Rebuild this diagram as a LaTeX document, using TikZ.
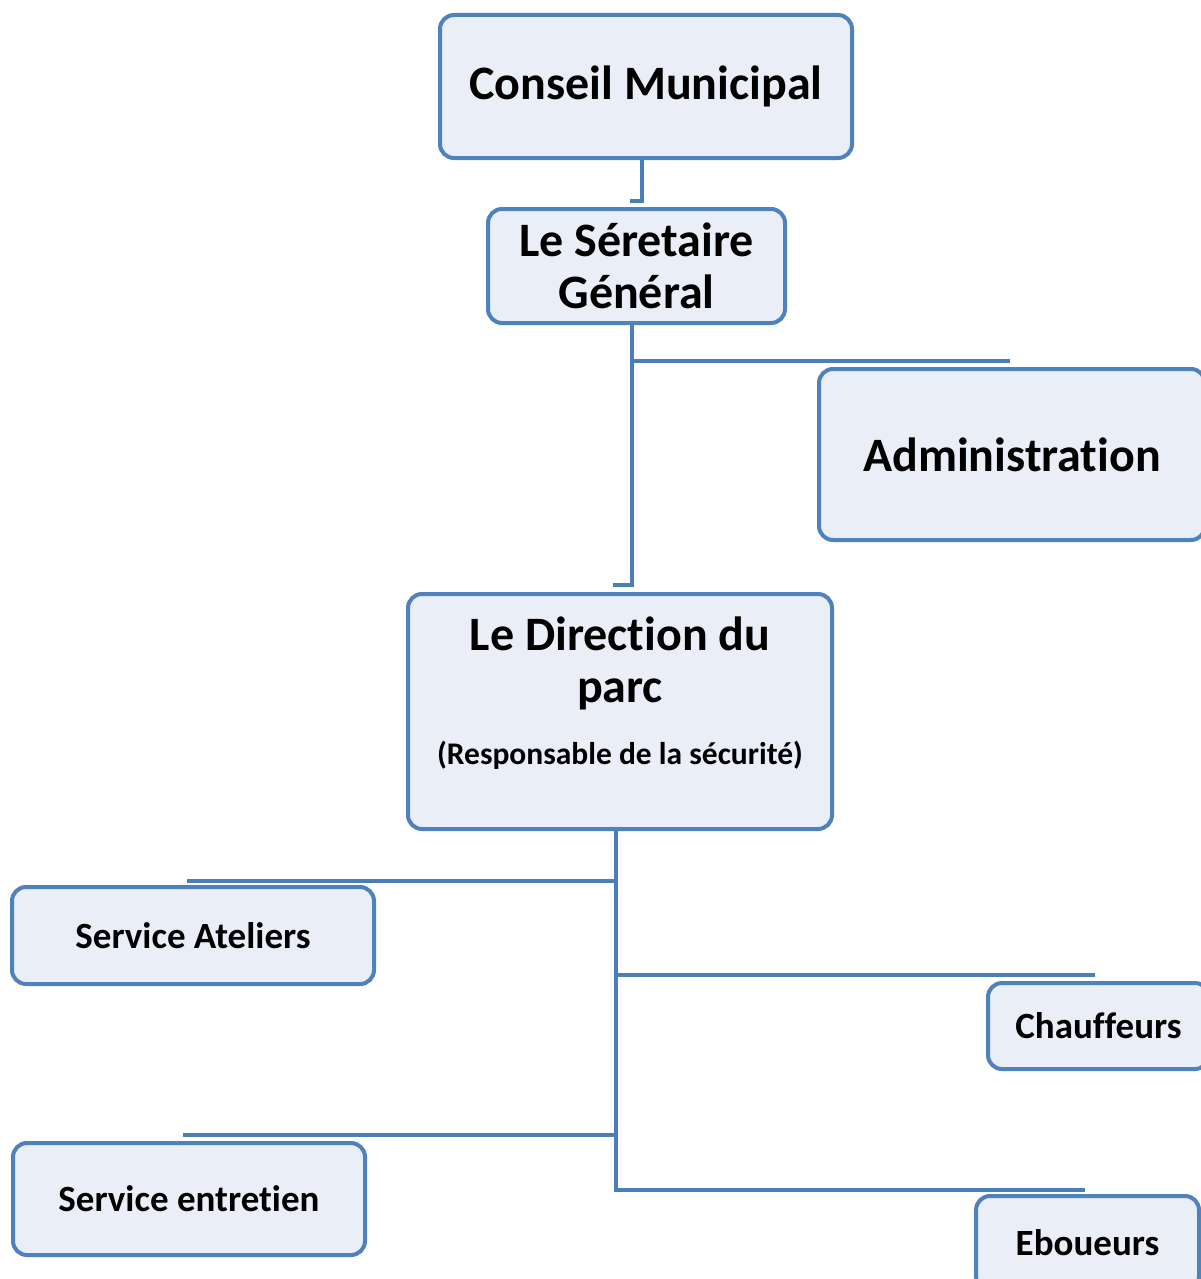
\documentclass[tikz,border=0pt]{standalone}
\usepackage{fontspec}
\setmainfont[Ligatures=NoCommon]{Carlito}
\definecolor{boxline}{RGB}{79,129,189}
\definecolor{conline}{RGB}{74,126,187}
\definecolor{boxfill}{RGB}{234,239,247}
\tikzset{
  orgbox/.style={draw=boxline, line width=4pt, fill=boxfill, rounded corners=14pt, align=center, font=\bfseries, inner sep=0pt},
  big/.style={font=\bfseries\fontsize{48}{52}\selectfont},
  mid/.style={font=\bfseries\fontsize{37}{44}\selectfont},
  conn/.style={draw=conline, line width=4pt}
}
\begin{document}
\begin{tikzpicture}[x=1pt,y=-1pt]
\useasboundingbox (0,0) rectangle (1201,1279);
\clip (0,0) rectangle (1201,1279);
% boxes
\node[orgbox, big, minimum width=412pt, minimum height=143pt] (conseil) at (646,86.5) {Conseil Municipal};
\node[orgbox, big, minimum width=297pt, minimum height=114pt] (sec) at (636.5,266) {Le Séretaire\\Général};
\node[orgbox, big, minimum width=386pt, minimum height=171pt] (admin) at (1012,454.5) {Administration};
\node[orgbox, minimum width=424pt, minimum height=235pt] (dir) at (620,711.5) {};
\node[big, align=center, inner sep=0pt] (dirtext) at (620,663) {Le Direction du\\parc};
\node[font=\bfseries\fontsize{31.5}{36}\selectfont, inner sep=0pt] (dirsub) at (620,755) {(Responsable de la sécurité)};
\node[orgbox, mid, minimum width=362pt, minimum height=97pt] (atel) at (193,935.5) {Service Ateliers};
\node[orgbox, mid, minimum width=221pt, minimum height=86pt] (chauf) at (1098.5,1026) {Chauffeurs};
\node[orgbox, mid, minimum width=352pt, minimum height=112pt] (entr) at (189,1199) {Service entretien};
\node[orgbox, mid, minimum width=223pt, minimum height=94pt] (ebou) at (1087.5,1243) {Eboueurs};
% connector coordinates
\coordinate (c1) at (642,201);
\coordinate (c1e) at (630,201);
\coordinate (c2) at (632,585);
\coordinate (c2e) at (613,585);
\coordinate (a1) at (632,361);
\coordinate (a2) at (1010,361);
\coordinate (d1) at (616,1190);
\coordinate (d2) at (1085,1190);
\coordinate (l1) at (616,881);
\coordinate (l1e) at (187,881);
\coordinate (r1) at (616,975);
\coordinate (r1e) at (1095,975);
\coordinate (l2) at (616,1135);
\coordinate (l2e) at (183,1135);
% connectors
\draw[conn] (conseil.south -| c1) -- (c1) -- (c1e);
\draw[conn] (sec.south -| c2) -- (c2) -- (c2e);
\draw[conn] (a1) -- (a2);
\draw[conn] (dir.south -| d1) -- (d1) -- (d2);
\draw[conn] (l1) -- (l1e);
\draw[conn] (r1) -- (r1e);
\draw[conn] (l2) -- (l2e);
\end{tikzpicture}
\end{document}
